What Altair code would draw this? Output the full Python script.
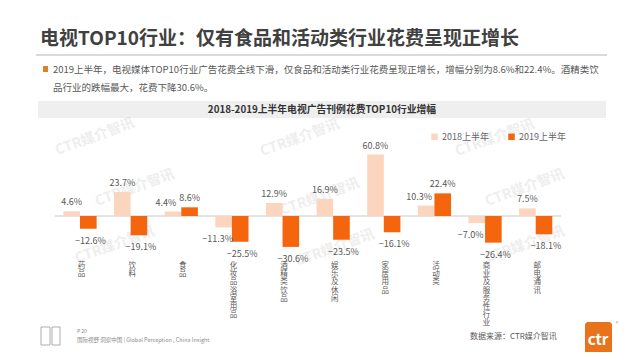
import altair as alt
import pandas as pd

# ---------------- data ----------------
categories = ["药品", "饮料", "食品", "化妆品浴室用品", "酒精类饮品",
              "娱乐及休闲", "家居用品", "活动类", "商业及服务性行业", "邮电通讯"]
v2018 = [4.6, 23.7, 4.4, -11.3, 12.9, 16.9, 60.8, 10.3, -7.0, 7.5]
v2019 = [-12.6, -19.1, 8.6, -25.5, -30.6, -23.5, -16.1, 22.4, -26.4, -18.1]
series = ["2018上半年", "2019上半年"]

title_text = "电视TOP10行业：仅有食品和活动类行业花费呈现正增长"
bullet_line1 = "2019上半年，电视媒体TOP10行业广告花费全线下滑，仅食品和活动类行业花费呈现正增长，增幅分别为8.6%和22.4%。酒精类饮"
bullet_line2 = "品行业的跌幅最大，花费下降30.6%。"
chart_title = "2018-2019上半年电视广告刊例花费TOP10行业增幅"
source_text = "数据来源：CTR媒介智讯"
footer_page = "P 20"
footer_slogan = "国际视野 洞察中国 | Global Perception , China Insight"
watermark = "CTR媒介智讯"

rows = []
for c, a, b in zip(categories, v2018, v2019):
    same = (a >= 0) == (b >= 0)  # both labels on the same side -> crowded
    rows.append({"cat": c, "series": series[0], "val": a, "crowd": same})
    rows.append({"cat": c, "series": series[1], "val": b, "crowd": same})
df = pd.DataFrame(rows)
cat_df = pd.DataFrame({"cat": categories})
one = pd.DataFrame({"k": [0]})
zero_df = pd.DataFrame({"z": [0.0]})

FONT = "Noto Sans CJK SC"
O = 8  # page margin


def X(v):
    return v - O


def Y(v):
    return v - O


xscale = alt.Scale(domain=categories, range=[X(54.7), X(561)],
                   paddingInner=0.344, paddingOuter=0.172)
yscale = alt.Scale(domain=[-40, 70], range=[Y(256.4), Y(145.3)])
colscale = alt.Scale(domain=series, range=["#FBD5BD", "#F4650E"])

xenc = alt.X("cat:N", scale=xscale, axis=None, sort=categories)
xoff = alt.XOffset("series:N", sort=series, scale=alt.Scale(domain=series))
yenc = alt.Y("val:Q", scale=yscale, axis=None)

layers = []


def txt(s, x, y, size, color, weight="normal", align="left",
        baseline="middle", angle=0, opacity=1.0):
    return alt.Chart(one).mark_text(
        text=s, font=FONT, fontSize=size, color=color, fontWeight=weight,
        align=align, baseline=baseline, angle=angle, opacity=opacity
    ).encode(x=alt.value(X(x)), y=alt.value(Y(y)))


def rect(x1, x2, y1, y2, color, **kw):
    return alt.Chart(one).mark_rect(color=color, **kw).encode(
        x=alt.value(X(x1)), x2=alt.value(X(x2)),
        y=alt.value(Y(y1)), y2=alt.value(Y(y2)))


# header
layers.append(txt(title_text, 40, 39, 19, "#404040", weight="bold"))
layers.append(alt.Chart(one).mark_rule(color="#D9D9D9", strokeWidth=2).encode(
    x=alt.value(X(36)), x2=alt.value(X(607)), y=alt.value(Y(55))))
layers.append(rect(43, 48, 66, 72, "#D9822B"))
layers.append(txt(bullet_line1, 53, 69.5, 9.5, "#595959"))
layers.append(txt(bullet_line2, 53, 87.5, 9.5, "#595959"))
layers.append(rect(38, 606, 101, 118, "#EFEFEF"))
layers.append(txt(chart_title, 322, 110, 9.8, "#333333", weight="bold", align="center"))

# watermarks
for wx, wy in [(95, 137), (135, 188), (115, 245), (300, 138), (320, 197),
               (335, 248), (495, 138), (525, 188), (525, 245)]:
    layers.append(txt(watermark, wx, wy, 14, "#C8C8C8", weight="bold",
                      align="center", angle=340, opacity=0.3))

# zero line
layers.append(alt.Chart(zero_df).mark_rule(color="#C8C8C8", strokeWidth=1).encode(
    x=alt.value(X(54.7)), x2=alt.value(X(561)),
    y=alt.Y("z:Q", scale=yscale, axis=None)))

# bars
bars = alt.Chart(df).mark_bar().encode(
    x=xenc, xOffset=xoff, y=yenc,
    color=alt.Color("series:N", scale=colscale, sort=series, legend=alt.Legend(
        orient="none", legendX=X(430), legendY=Y(132), direction="horizontal",
        title=None, symbolType="square", symbolSize=42, symbolStrokeWidth=0,
        labelFontSize=9, labelColor="#666666", labelFont=FONT,
        columnPadding=18, labelOffset=3)),
)
layers.append(bars)

lab = alt.Chart(df).transform_calculate(
    lab="format(datum.val, '.1f') + '%'")


def vlabels(cond, baseline, dy, dx):
    return lab.transform_filter(cond).mark_text(
        baseline=baseline, dy=dy, dx=dx, fontSize=9, color="#595959", font=FONT
    ).encode(x=xenc, xOffset=xoff, y=yenc, text="lab:N")


s18 = "datum.series == '%s'" % series[0]
s19 = "datum.series == '%s'" % series[1]
layers += [
    vlabels("datum.val >= 0 && (!datum.crowd || %s)" % s19, "bottom", -4, 0),
    vlabels("datum.val >= 0 && datum.crowd && %s" % s18, "bottom", -4, -7),
    vlabels("datum.val < 0 && (!datum.crowd || %s)" % s19, "top", 8, 2),
    vlabels("datum.val < 0 && datum.crowd && %s" % s18, "top", 8, -6),
]

# vertical category labels (one character per line)
catlab = alt.Chart(cat_df).transform_calculate(
    lines="split(datum.cat, '')"
).mark_text(baseline="top", fontSize=7.5, lineHeight=8.2, color="#595959",
            font=FONT, dx=1.5).encode(
    x=xenc, y=alt.value(Y(262)), text="lines:N")
layers.append(catlab)

# footer
layers.append(rect(41, 50, 327, 345, "#FFFFFF", stroke="#9A9A9A", strokeWidth=0.8))
layers.append(rect(52, 60, 327, 345, "#FFFFFF", stroke="#9A9A9A", strokeWidth=0.8))
layers.append(txt(footer_page, 77, 331, 5, "#8C8C8C"))
layers.append(txt(footer_slogan, 77, 340, 5.5, "#8C8C8C"))
layers.append(txt(source_text, 470, 336.5, 8, "#595959"))
layers.append(rect(585, 612, 322, 355, "#E8731A", cornerRadius=3))
layers.append(txt("ctr", 598, 340, 15, "#FFFFFF", weight="bold", align="center"))
layers.append(txt("®", 617, 323, 5, "#999999", align="center"))

chart = alt.layer(*layers).properties(
    width=624, height=344, padding=0,
    autosize=alt.AutoSizeParams(type="none"),
).configure_view(stroke=None)

chart.save("out.html", embed_options={"renderer": "svg", "actions": False})
